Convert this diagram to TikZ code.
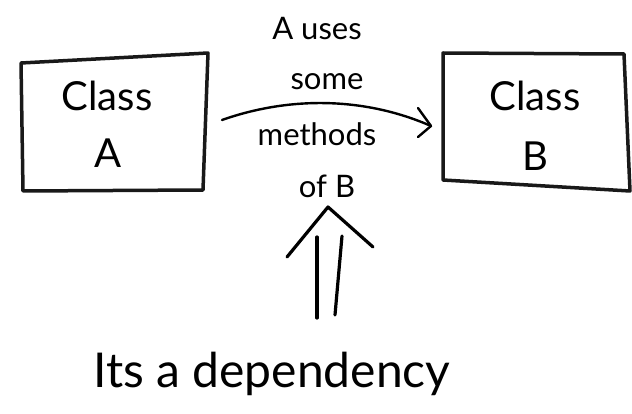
\documentclass[tikz,border=0pt]{standalone}
\usepackage{fontspec}
\setmainfont{Lato}
\begin{document}
\begin{tikzpicture}[x=1pt,y=-1pt,
  boxline/.style={line width=3.5pt,line join=round,black!90},
  thinline/.style={line width=2.4pt,line cap=round,line join=round},
  bigline/.style={line width=3.2pt,line cap=round,line join=round},
  cls/.style={font=\fontsize{40}{42}\selectfont},
  lbl/.style={font=\fontsize{31}{33}\selectfont},
  big/.style={font=\fontsize{48}{50}\selectfont}]
\useasboundingbox (0,0) rectangle (632,414);
% box A
\coordinate (a1) at (21,63); \coordinate (a2) at (208,53);
\coordinate (a3) at (203,190); \coordinate (a4) at (23,191);
\draw[boxline] (a1) -- (a2) -- (a3) -- (a4) -- cycle;
\node[cls] (clsA) at (107,96) {Class};
\node[cls] (letA) at (108,153) {A};
% box B
\coordinate (b1) at (443,53); \coordinate (b2) at (624,54);
\coordinate (b3) at (630,191); \coordinate (b4) at (443,180);
\draw[boxline] (b1) -- (b2) -- (b3) -- (b4) -- cycle;
\node[cls] (clsB) at (535,96) {Class};
\node[cls] (letB) at (535,156) {B};
% curved arrow
\coordinate (aout) at (222,120);
\coordinate (bin) at (431,126);
\draw[thinline] (aout) .. controls (290,96) and (365,97) .. (bin);
\draw[thinline] (418,108) -- (bin) -- (418,137);
% labels
\node[lbl] (l1) at (317,29) {A uses};
\node[lbl] (l2) at (327,82) {some};
\node[lbl] (l3) at (317,134) {methods};
\node[lbl] (l4) at (327,186) {of B};
% big arrow
\coordinate (apex) at (328,207);
\coordinate (hl) at (287,257); \coordinate (hr) at (373,247);
\draw[bigline] (hl) -- (apex) -- (hr);
\coordinate (s1t) at (317,237); \coordinate (s1b) at (317,318);
\coordinate (s2t) at (342,236); \coordinate (s2b) at (335,315);
\draw[bigline] (s1t) -- (s1b);
\draw[bigline] (s2t) -- (s2b);
\node[big,anchor=base] (dep) at (272,387) {Its a dependency};
\end{tikzpicture}
\end{document}
